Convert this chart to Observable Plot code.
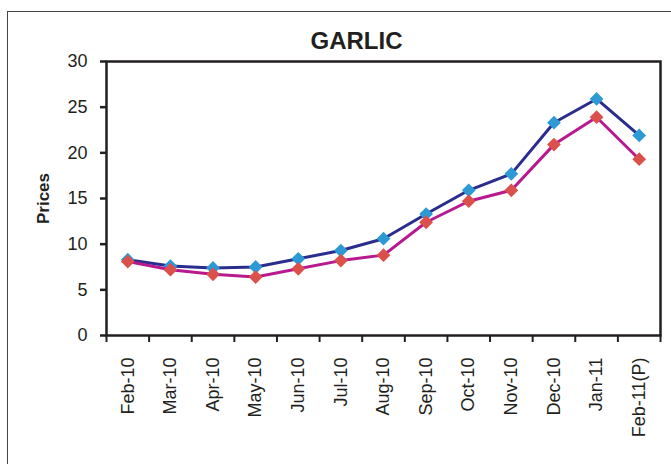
<!DOCTYPE html>
<html>
<head>
<meta charset="utf-8">
<script src="https://cdn.jsdelivr.net/npm/d3@7"></script>
<script src="https://cdn.jsdelivr.net/npm/@observablehq/plot@0.6"></script>
<style>
  html, body { margin: 0; padding: 0; background: #fff; overflow: hidden; }
  #wrap { position: relative; width: 671px; height: 464px; }
  #border { position: absolute; left: 7px; top: 11px; width: 720px; height: 520px; border: 1.5px solid #444; box-sizing: border-box; }
  #chart { position: absolute; left: 0; top: 0; }
</style>
</head>
<body>
<div id="wrap"><div id="border"></div><div id="chart"></div></div>
<script>
const months = ["Feb-10","Mar-10","Apr-10","May-10","Jun-10","Jul-10","Aug-10","Sep-10","Oct-10","Nov-10","Dec-10","Jan-11","Feb-11(P)"];
const seriesBlue = [8.3, 7.6, 7.4, 7.5, 8.4, 9.3, 10.6, 13.3, 15.9, 17.7, 23.3, 25.9, 21.9];
const seriesRed  = [8.1, 7.2, 6.7, 6.4, 7.3, 8.2, 8.8, 12.4, 14.7, 15.9, 20.9, 23.9, 19.3];
const yTicks = [0, 5, 10, 15, 20, 25, 30];
const title = "GARLIC";
const yLabel = "Prices";

const idx = months.map((_, i) => i);
const edges = d3.range(-0.5, months.length, 1);
const blueData = idx.map(i => ({i, v: seriesBlue[i]}));
const redData = idx.map(i => ({i, v: seriesRed[i]}));
const font = "'Liberation Sans', Arial, Helvetica, sans-serif";

const chart = Plot.plot({
  width: 671,
  height: 464,
  marginLeft: 106,
  marginRight: 11,
  marginTop: 61,
  marginBottom: 129,
  style: {fontFamily: font, background: "transparent", color: "#231f20"},
  x: {type: "linear", domain: [-0.5, months.length - 0.5], axis: null},
  y: {domain: [0, 30], axis: null},
  marks: [
    Plot.axisY({ticks: yTicks, tickSize: 6, tickPadding: 13, fontSize: 18, strokeWidth: 2.5, label: null, stroke: "#231f20", fill: "#231f20"}),
    Plot.axisX({ticks: edges, tickSize: 7, tickFormat: () => "", strokeWidth: 2, label: null, stroke: "#231f20"}),
    Plot.frame({stroke: "#231f20", strokeWidth: 2.5}),
    Plot.text(months, {x: (d, i) => i, frameAnchor: "bottom", rotate: -90, textAnchor: "end", lineAnchor: "middle", dy: 22, fontSize: 18, fill: "#231f20"}),
    Plot.text([title], {frameAnchor: "top", lineAnchor: "middle", textAnchor: "middle", dx: -27, dy: -20, fontSize: 24, fontWeight: "bold", fill: "#231f20"}),
    Plot.text([yLabel], {frameAnchor: "left", textAnchor: "middle", lineAnchor: "middle", dx: -63, rotate: -90, fontSize: 17, fontWeight: "bold", fill: "#231f20"}),
    Plot.line(blueData, {x: "i", y: "v", stroke: "#2b2d8e", strokeWidth: 3}),
    Plot.dot(blueData, {x: "i", y: "v", symbol: "diamond2", r: 6.2, fill: "#2e9ad5", stroke: "none"}),
    Plot.line(redData, {x: "i", y: "v", stroke: "#b8198f", strokeWidth: 3}),
    Plot.dot(redData, {x: "i", y: "v", symbol: "diamond2", r: 6.2, fill: "#dc504c", stroke: "none"})
  ]
});
document.getElementById("chart").appendChild(chart);
</script>
</body>
</html>
